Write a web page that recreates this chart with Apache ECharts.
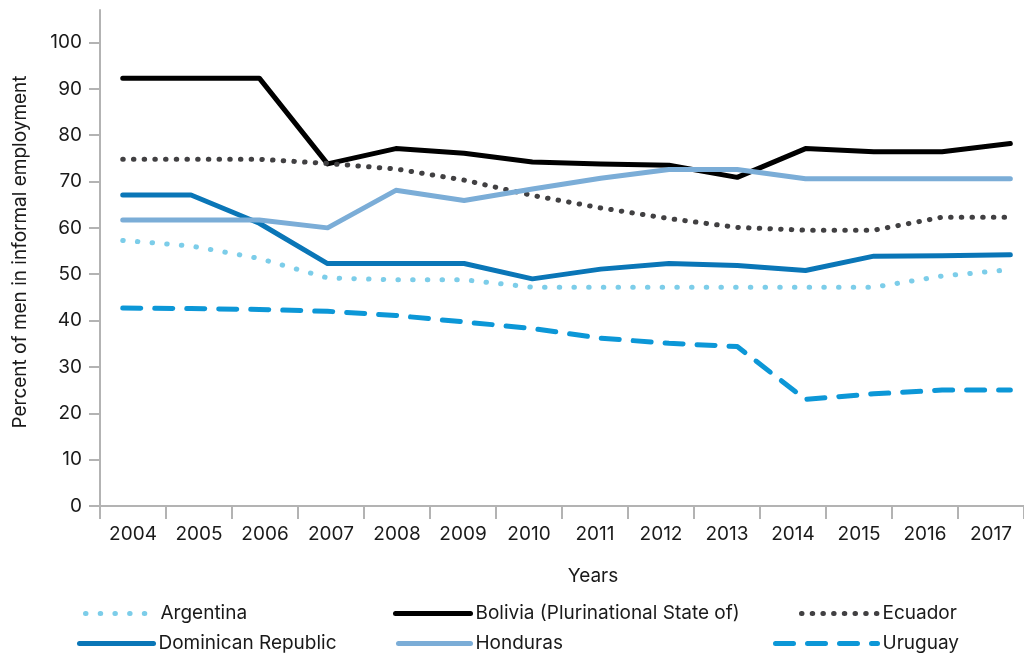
<!DOCTYPE html>
<html>
<head>
<meta charset="utf-8">
<script src="https://cdn.jsdelivr.net/npm/echarts@6/dist/echarts.min.js"></script>
<style>
  html, body { margin: 0; padding: 0; background: #fff; }
  #chart { width: 1024px; height: 653px; }
</style>
</head>
<body>
<div id="chart"></div>
<script>
// Survey years shown on the category axis
const years = ['2004', '2005', '2006', '2007', '2008', '2009', '2010',
               '2011', '2012', '2013', '2014', '2015', '2016', '2017'];
// Value-axis tick labels
const yTicks = [0, 10, 20, 30, 40, 50, 60, 70, 80, 90, 100];

// Percent of men in informal employment, by country
const argentina = [57.3, 56.1, 53.4, 49.2, 48.8, 48.8, 47.2, 47.2, 47.2, 47.2, 47.2, 47.2, 49.6, 51.0];
const bolivia   = [92.3, 92.3, 92.3, 73.8, 77.1, 76.1, 74.2, 73.8, 73.5, 70.9, 77.1, 76.4, 76.4, 78.2];
const ecuador   = [74.8, 74.8, 74.8, 73.9, 72.7, 70.3, 67.0, 64.3, 62.0, 60.1, 59.5, 59.5, 62.3, 62.3];
const dominican = [67.1, 67.1, 61.0, 52.3, 52.3, 52.3, 49.0, 51.1, 52.3, 51.9, 50.8, 53.9, 54.0, 54.2];
const honduras  = [61.7, 61.7, 61.7, 60.0, 68.1, 65.9, 68.4, 70.7, 72.6, 72.6, 70.6, 70.6, 70.6, 70.6];
const uruguay   = [42.7, 42.6, 42.4, 42.0, 41.1, 39.7, 38.3, 36.2, 35.1, 34.4, 23.0, 24.2, 25.0, 25.0];

const FONT = 'Inter';
const TEXT = '#1a1a1a';
const AXIS = '#b3b3b3';
const FS = 19;

// Continuous year scale used to place the lines
const xMin = 2003.667;
const xMax = 2017.2;

function pairs(vals) {
  return years.map((y, i) => [Number(y), vals[i]]);
}

function lineSeries(name, vals, color, type) {
  return {
    name: name,
    type: 'line',
    xAxisIndex: 1,
    data: pairs(vals),
    symbol: 'none',
    lineStyle: { color: color, width: 5, type: type, cap: 'round', join: 'round' },
    itemStyle: { color: color },
    emphasis: { disabled: true },
    silent: true
  };
}

function legendItem(name, left, top, width) {
  return {
    data: [name],
    left: left,
    top: top,
    padding: 0,
    itemWidth: width,
    itemHeight: 14,
    itemGap: 0,
    selectedMode: false,
    itemStyle: { opacity: 0 },
    lineStyle: { width: 5, type: 'inherit', cap: 'round' },
    textStyle: { fontFamily: FONT, fontSize: FS, color: TEXT }
  };
}

const chart = echarts.init(document.getElementById('chart'), null, { renderer: 'canvas' });

chart.setOption({
  animation: false,
  backgroundColor: '#ffffff',
  grid: { left: 100, top: 10, width: 935, height: 496, containLabel: false },
  xAxis: [
    {
      type: 'category',
      data: years,
      boundaryGap: true,
      name: 'Years',
      nameLocation: 'middle',
      nameGap: 61,
      nameTextStyle: { fontFamily: FONT, fontSize: FS, color: TEXT, padding: [0, 0, 0, 62] },
      axisLine: { lineStyle: { color: AXIS, width: 2 } },
      axisTick: { show: true, length: 13, lineStyle: { color: AXIS, width: 2 } },
      axisLabel: { margin: 19, fontFamily: FONT, fontSize: FS, color: TEXT },
      splitLine: { show: false }
    },
    {
      type: 'value',
      min: xMin,
      max: xMax,
      show: false,
      splitLine: { show: false }
    }
  ],
  yAxis: {
    type: 'value',
    min: 0,
    max: 107,
    interval: 10,
    name: 'Percent of men in informal employment',
    nameLocation: 'middle',
    nameGap: 70,
    nameTextStyle: { fontFamily: FONT, fontSize: FS, color: TEXT, padding: [0, 0, 0, 12] },
    axisLine: { show: true, lineStyle: { color: AXIS, width: 2 } },
    axisTick: { show: true, length: 11, customValues: yTicks, lineStyle: { color: AXIS, width: 2 } },
    axisLabel: { margin: 18, customValues: yTicks, fontFamily: FONT, fontSize: FS, color: TEXT },
    splitLine: { show: false }
  },
  legend: [
    legendItem('Argentina', 83, 604, 70),
    legendItem('Dominican Republic', 77, 634, 74),
    legendItem('Bolivia (Plurinational State of)', 393, 604, 75),
    legendItem('Honduras', 396, 634, 72),
    legendItem('Ecuador', 799, 604, 76),
    legendItem('Uruguay', 773, 634, 102)
  ],
  series: [
    lineSeries('Argentina', argentina, '#7ccde9', [0.5, 14.2]),
    lineSeries('Bolivia (Plurinational State of)', bolivia, '#000000', 'solid'),
    lineSeries('Ecuador', ecuador, '#414042', [0.5, 10.2]),
    lineSeries('Dominican Republic', dominican, '#0a76b7', 'solid'),
    lineSeries('Honduras', honduras, '#7badd7', 'solid'),
    lineSeries('Uruguay', uruguay, '#0c97d7', [18, 14])
  ]
});
</script>
</body>
</html>
